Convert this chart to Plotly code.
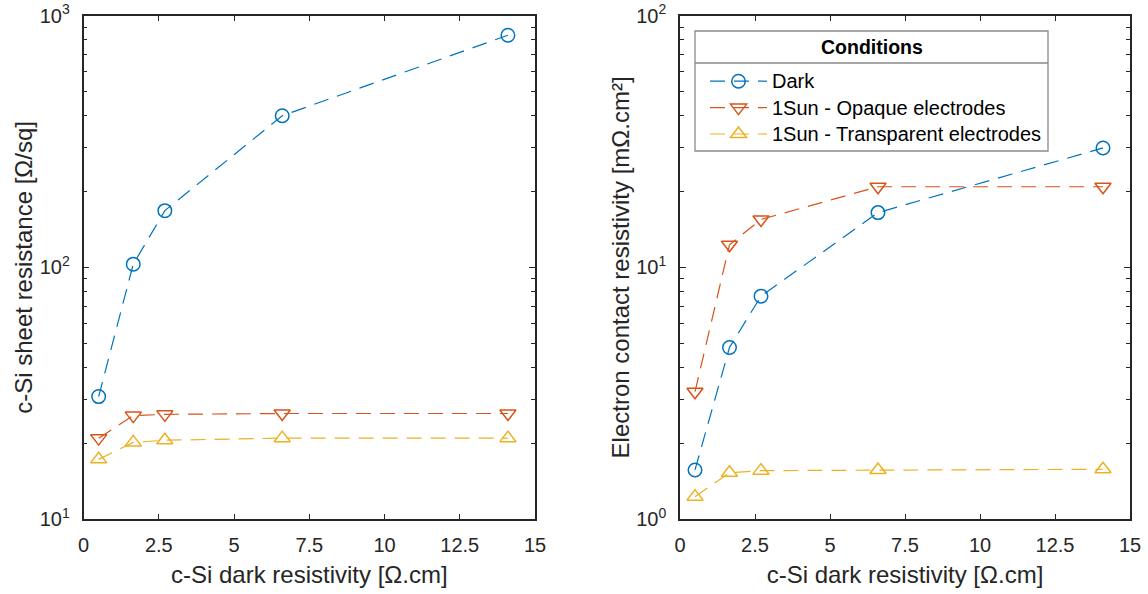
import plotly.graph_objects as go

# ---------------- data ----------------
resistivity = [0.5, 1.65, 2.7, 6.6, 14.1]          # c-Si dark resistivity [Ohm.cm]

sheet_dark = [30.7, 103, 168, 400, 835]             # left panel
sheet_opaque = [21.0, 25.8, 26.1, 26.3, 26.3]
sheet_transparent = [17.3, 20.2, 20.6, 21.0, 21.0]

contact_dark = [1.57, 4.81, 7.69, 16.5, 29.8]       # right panel
contact_opaque = [3.21, 12.3, 15.5, 20.9, 20.9]
contact_transparent = [1.23, 1.53, 1.56, 1.57, 1.58]

series_names = ["Dark", "1Sun - Opaque electrodes", "1Sun - Transparent electrodes"]
legend_title = "Conditions"
x_ticks = [0, 2.5, 5, 7.5, 10, 12.5, 15]
x_ticktext = ["0", "2.5", "5", "7.5", "10", "12.5", "15"]
left_decades = [10, 100, 1000]
left_decade_text = ["10<sup>1</sup>", "10<sup>2</sup>", "10<sup>3</sup>"]
right_decades = [1, 10, 100]
right_decade_text = ["10<sup>0</sup>", "10<sup>1</sup>", "10<sup>2</sup>"]
left_minor = [m * d for d in [10, 100] for m in range(2, 10)]
right_minor = [m * d for d in [1, 10] for m in range(2, 10)]

# ---------------- style ----------------
colors = ["#0072BD", "#D95319", "#EDB120"]
symbols = ["circle-open", "triangle-down-open", "triangle-up-open"]
sizes = [13.5, 14, 14]
FONT = "Arial, 'Liberation Sans', Helvetica, sans-serif"
AX = "#262626"
BOX = "#8a8a8a"
DASH = "15px,9px"

def legend_label(name):
    return f'<span style="font-size:20px">{name}</span>'

fig = go.Figure()

left_series = [sheet_dark, sheet_opaque, sheet_transparent]
right_series = [contact_dark, contact_opaque, contact_transparent]

for i, ys in enumerate(left_series):
    fig.add_trace(go.Scatter(
        x=resistivity, y=ys, mode="lines+markers", name=series_names[i],
        line=dict(color=colors[i], width=1.2, dash=DASH),
        marker=dict(symbol=symbols[i], size=sizes[i], color=colors[i],
                    line=dict(width=1.5, color=colors[i])),
        xaxis="x", yaxis="y", showlegend=False))

for i, ys in enumerate(right_series):
    fig.add_trace(go.Scatter(
        x=resistivity, y=ys, mode="lines+markers", name=legend_label(series_names[i]),
        line=dict(color=colors[i], width=1.2, dash=DASH),
        marker=dict(symbol=symbols[i], size=sizes[i], color=colors[i],
                    line=dict(width=1.5, color=colors[i])),
        xaxis="x2", yaxis="y2", showlegend=True))

W, H = 1148, 594
def px_x(a, b):
    return [a / W, b / W]
def px_y(top, bottom):
    return [1 - bottom / H, 1 - top / H]
def fx(p):
    return p / W
def fy(p):
    return 1 - p / H

common_x = dict(
    range=[0, 15], tickmode="array", tickvals=x_ticks, ticktext=x_ticktext,
    ticks="inside", ticklen=6, tickwidth=1.2, tickcolor=AX,
    showline=True, linecolor=AX, linewidth=1.6, mirror="ticks",
    showgrid=False, zeroline=False, automargin=False,
    tickfont=dict(family=FONT, size=20, color=AX), ticklabelstandoff=7,
    title=dict(text="c-Si dark resistivity [Ω.cm]",
               font=dict(family=FONT, size=24, color=AX), standoff=11),
)

def common_y(decades, dtext, minor, title, rng):
    return dict(
        type="log", range=rng, tickmode="array", tickvals=decades, ticktext=dtext,
        ticks="inside", ticklen=6, tickwidth=1.2, tickcolor=AX,
        minor=dict(ticks="inside", ticklen=4, tickwidth=1.2, tickcolor=AX,
                   tickmode="array", tickvals=minor, showgrid=False),
        showline=True, linecolor=AX, linewidth=1.6, mirror="ticks",
        showgrid=False, zeroline=False, automargin=False,
        tickfont=dict(family=FONT, size=20, color=AX), ticklabelstandoff=8,
        title=dict(text=title, font=dict(family=FONT, size=24, color=AX), standoff=0),
    )

# legend frame (box + separator under the title)
LB = dict(left=695, right=1048, top=31, bottom=151, sep=63)

fig.update_layout(
    width=W, height=H,
    margin=dict(l=0, r=0, t=0, b=0),
    paper_bgcolor="white", plot_bgcolor="white",
    font=dict(family=FONT, color=AX),
    xaxis=dict(domain=px_x(83.6, 535), anchor="y", **common_x),
    yaxis=dict(domain=px_y(15.5, 519.3), anchor="x",
               **common_y(left_decades, left_decade_text, left_minor,
                          "c-Si sheet resistance [Ω/sq]", [1, 3])),
    xaxis2=dict(domain=px_x(680, 1130), anchor="y2", **common_x),
    yaxis2=dict(domain=px_y(15.5, 519.3), anchor="x2",
                **common_y(right_decades, right_decade_text, right_minor,
                           "Electron contact resistivity [mΩ.cm²]", [0, 2])),
    legend=dict(
        x=fx(705), y=fy(63), xanchor="left", yanchor="top",
        bgcolor="rgba(0,0,0,0)", borderwidth=0,
        font=dict(family=FONT, size=18, color="black"),
        itemwidth=57,
    ),
    shapes=[
        dict(type="rect", xref="paper", yref="paper", layer="above",
             x0=fx(LB["left"]), x1=fx(LB["right"]), y0=fy(LB["bottom"]), y1=fy(LB["top"]),
             fillcolor="white", line=dict(color=BOX, width=1.3)),
        dict(type="line", xref="paper", yref="paper", layer="above",
             x0=fx(LB["left"]), x1=fx(LB["right"]), y0=fy(LB["sep"]), y1=fy(LB["sep"]),
             line=dict(color=BOX, width=1.3)),
    ],
    annotations=[dict(
        text=f"<b>{legend_title}</b>", xref="paper", yref="paper",
        x=fx((LB["left"] + LB["right"]) / 2), y=fy((LB["top"] + LB["sep"]) / 2),
        xanchor="center", yanchor="middle", showarrow=False,
        font=dict(family=FONT, size=19.5, color="black"))],
)

fig.write_html("out.html", config={"displayModeBar": False},
               post_script="document.body.style.margin='0';")
